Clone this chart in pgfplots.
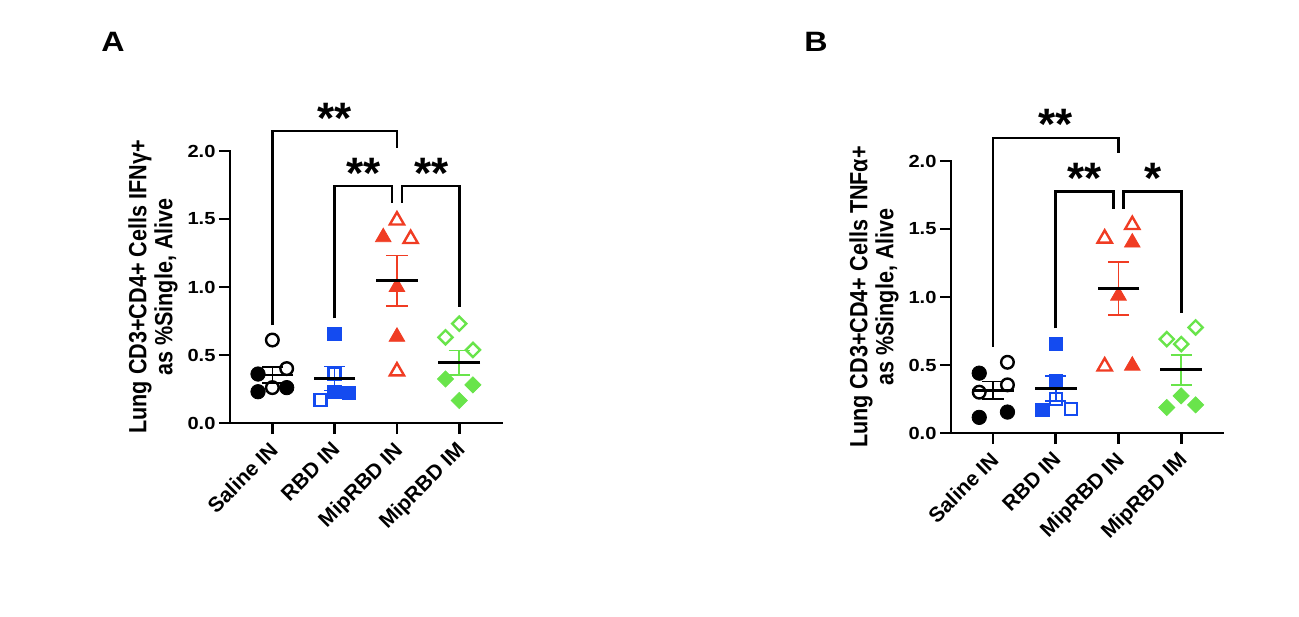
\documentclass[border=0pt]{standalone}
\usepackage{pgfplots}
\pgfplotsset{compat=1.18}
\usepackage{fontspec}
\setmainfont{Liberation Sans}[FakeStretch=1.15]
\newfontfamily\plainfont{Liberation Sans}
\newfontfamily\ylabfont{Liberation Sans}[FakeStretch=0.867]
\definecolor{pblue}{RGB}{20,75,240}
\definecolor{pred}{RGB}{240,60,35}
\definecolor{pgreen}{RGB}{105,228,75}
\pgfplotsset{
  prism/.style={
    scale only axis, width=271.6bp, height=272bp,
    ymin=0, ymax=2,
    axis x line=bottom, axis y line=left,
    axis line style={-, line width=2.6bp, line cap=rect},
    clip=false,
    xtick={0,1,2,3}, xticklabels={Saline IN, RBD IN, MipRBD IN, MipRBD IM},
    ytick={0,0.5,1,1.5,2},
    tick align=outside, major tick length=11bp,
    every tick/.style={black, line width=2.6bp},
    xticklabel style={xshift=-4bp, yshift=-5bp, font=\plainfont\bfseries\fontsize{21bp}{23bp}\selectfont, rotate=45, anchor=north east, inner sep=1bp},
    yticklabel style={font=\bfseries\fontsize{17.5bp}{20bp}\selectfont, /pgf/number format/.cd, fixed, fixed zerofill, precision=1, assume math mode=true},
  },
  fmk/.style={only marks, forget plot, mark options={solid, line width=0.8bp}},
  omk/.style={only marks, forget plot, mark options={solid, line width=2.4bp, fill=white}},
  fdia/.style={only marks, forget plot, mark=square*, mark size=5.7bp, mark options={solid, rotate=45, line width=0.8bp}},
  odia/.style={only marks, forget plot, mark=square, mark size=5.0bp, mark options={solid, rotate=45, line width=2.4bp, fill=white}},
  mse/.style={only marks, forget plot, mark=-, mark size=20.8bp, mark options={black, line width=2.8bp},
    error bars/.cd, y dir=both, y explicit,
    error bar style={#1, line width=1.6bp},
    error mark options={#1, rotate=90, line width=1.6bp, mark size=10.6bp}},
  brk/.style={black, line width=2.6bp, forget plot, mark=none},
}
\tikzset{
  stars/.style={font=\plainfont\bfseries\fontsize{44bp}{44bp}\selectfont, anchor=base},
  ylab/.style={rotate=90, align=center, font=\ylabfont\bfseries\fontsize{24.9bp}{26bp}\selectfont}
}
\begin{document}
\begin{tikzpicture}
\useasboundingbox (0,0) rectangle (1299bp,617bp);
\node[font=\bfseries\fontsize{28bp}{28bp}\selectfont] at (113bp,575bp) {A};
\node[font=\bfseries\fontsize{28bp}{28bp}\selectfont] at (816bp,575bp) {B};
% ---------------- Panel A ----------------
\begin{axis}[prism, at={(230bp,194bp)}, anchor=south west, xmin=-0.68, xmax=3.68]
% Saline IN
\addplot[fmk, mark=*, mark size=7.2bp, black, fill=black] coordinates {(-0.23,0.36) (-0.23,0.23) (0.23,0.26)};
\addplot[omk, mark=o, mark size=6.3bp, black] coordinates {(0,0.61) (0.23,0.40) (0,0.26)};
% RBD IN
\addplot[fmk, mark=square*, mark size=6.8bp, pblue, fill=pblue] coordinates {(1,0.655) (1,0.23) (1.23,0.22)};
\addplot[omk, mark=square, mark size=6.0bp, pblue] coordinates {(1,0.36) (0.775,0.17)};
% MipRBD IN
\addplot[fmk, mark=triangle*, mark size=9bp, pred, fill=pred] coordinates {(1.78,1.366) (2,1.0) (2,0.634)};
\addplot[omk, mark=triangle, mark size=8.2bp, pred] coordinates {(2,1.49) (2.22,1.354) (2,0.38)};
% MipRBD IM
\addplot[fdia, pgreen, fill=pgreen] coordinates {(2.78,0.324) (3.22,0.28) (3,0.166)};
\addplot[odia, pgreen] coordinates {(3,0.73) (2.78,0.63) (3.22,0.537)};
% mean and SEM
\addplot[mse=black] coordinates {(0,0.353) +- (0,0.058)};
\addplot[mse=pblue] coordinates {(1,0.327) +- (0,0.088)};
\addplot[mse=pred] coordinates {(2,1.047) +- (0,0.185)};
\addplot[mse=pgreen] coordinates {(3,0.444) +- (0,0.090)};
% significance brackets
\addplot[brk] coordinates {(0,0.72) (0,2.147) (2,2.147) (2,2.02)};
\addplot[brk] coordinates {(1,0.77) (1,1.743) (1.92,1.743) (1.92,1.62)};
\addplot[brk] coordinates {(2.08,1.62) (2.08,1.743) (3,1.743) (3,0.85)};
\node[stars] at (axis cs:1,2.13) {**};
\node[stars] at (axis cs:1.46,1.725) {**};
\node[stars] at (axis cs:2.55,1.725) {**};
\node[ylab] at ([xshift=-77bp]rel axis cs:0,0.5) {Lung CD3+CD4+ Cells IFNγ+\\as \%Single, Alive};
\end{axis}
% ---------------- Panel B ----------------
\begin{axis}[prism, at={(951bp,184bp)}, anchor=south west, xmin=-0.67, xmax=3.66]
% Saline IN
\addplot[fmk, mark=*, mark size=7.2bp, black, fill=black] coordinates {(-0.22,0.44) (-0.22,0.115) (0.23,0.154)};
\addplot[omk, mark=o, mark size=6.3bp, black] coordinates {(0.23,0.52) (-0.22,0.30) (0.23,0.354)};
% RBD IN
\addplot[fmk, mark=square*, mark size=6.8bp, pblue, fill=pblue] coordinates {(1,0.654) (1,0.383) (0.79,0.17)};
\addplot[omk, mark=square, mark size=6.0bp, pblue] coordinates {(1,0.25) (1.24,0.176)};
% MipRBD IN
\addplot[fmk, mark=triangle*, mark size=9bp, pred, fill=pred] coordinates {(2.22,1.40) (2,1.01) (2.22,0.495)};
\addplot[omk, mark=triangle, mark size=8.2bp, pred] coordinates {(1.78,1.43) (2.22,1.53) (1.78,0.49)};
% MipRBD IM
\addplot[fdia, pgreen, fill=pgreen] coordinates {(3,0.273) (2.77,0.188) (3.23,0.207)};
\addplot[odia, pgreen] coordinates {(3.23,0.776) (2.77,0.69) (3,0.654)};
% mean and SEM
\addplot[mse=black] coordinates {(0,0.314) +- (0,0.065)};
\addplot[mse=pblue] coordinates {(1,0.327) +- (0,0.090)};
\addplot[mse=pred] coordinates {(2,1.064) +- (0,0.195)};
\addplot[mse=pgreen] coordinates {(3,0.464) +- (0,0.110)};
% significance brackets
\addplot[brk] coordinates {(0,0.635) (0,2.17) (2,2.17) (2,2.056)};
\addplot[brk] coordinates {(1,0.77) (1,1.775) (1.92,1.775) (1.92,1.65)};
\addplot[brk] coordinates {(2.08,1.65) (2.08,1.775) (3,1.775) (3,0.885)};
\node[stars] at (axis cs:1,2.16) {**};
\node[stars] at (axis cs:1.46,1.76) {**};
\node[stars] at (axis cs:2.55,1.76) {*};
\node[ylab] at ([xshift=-77bp]rel axis cs:0,0.5) {Lung CD3+CD4+ Cells TNFα+\\as \%Single, Alive};
\end{axis}
\end{tikzpicture}
\end{document}
